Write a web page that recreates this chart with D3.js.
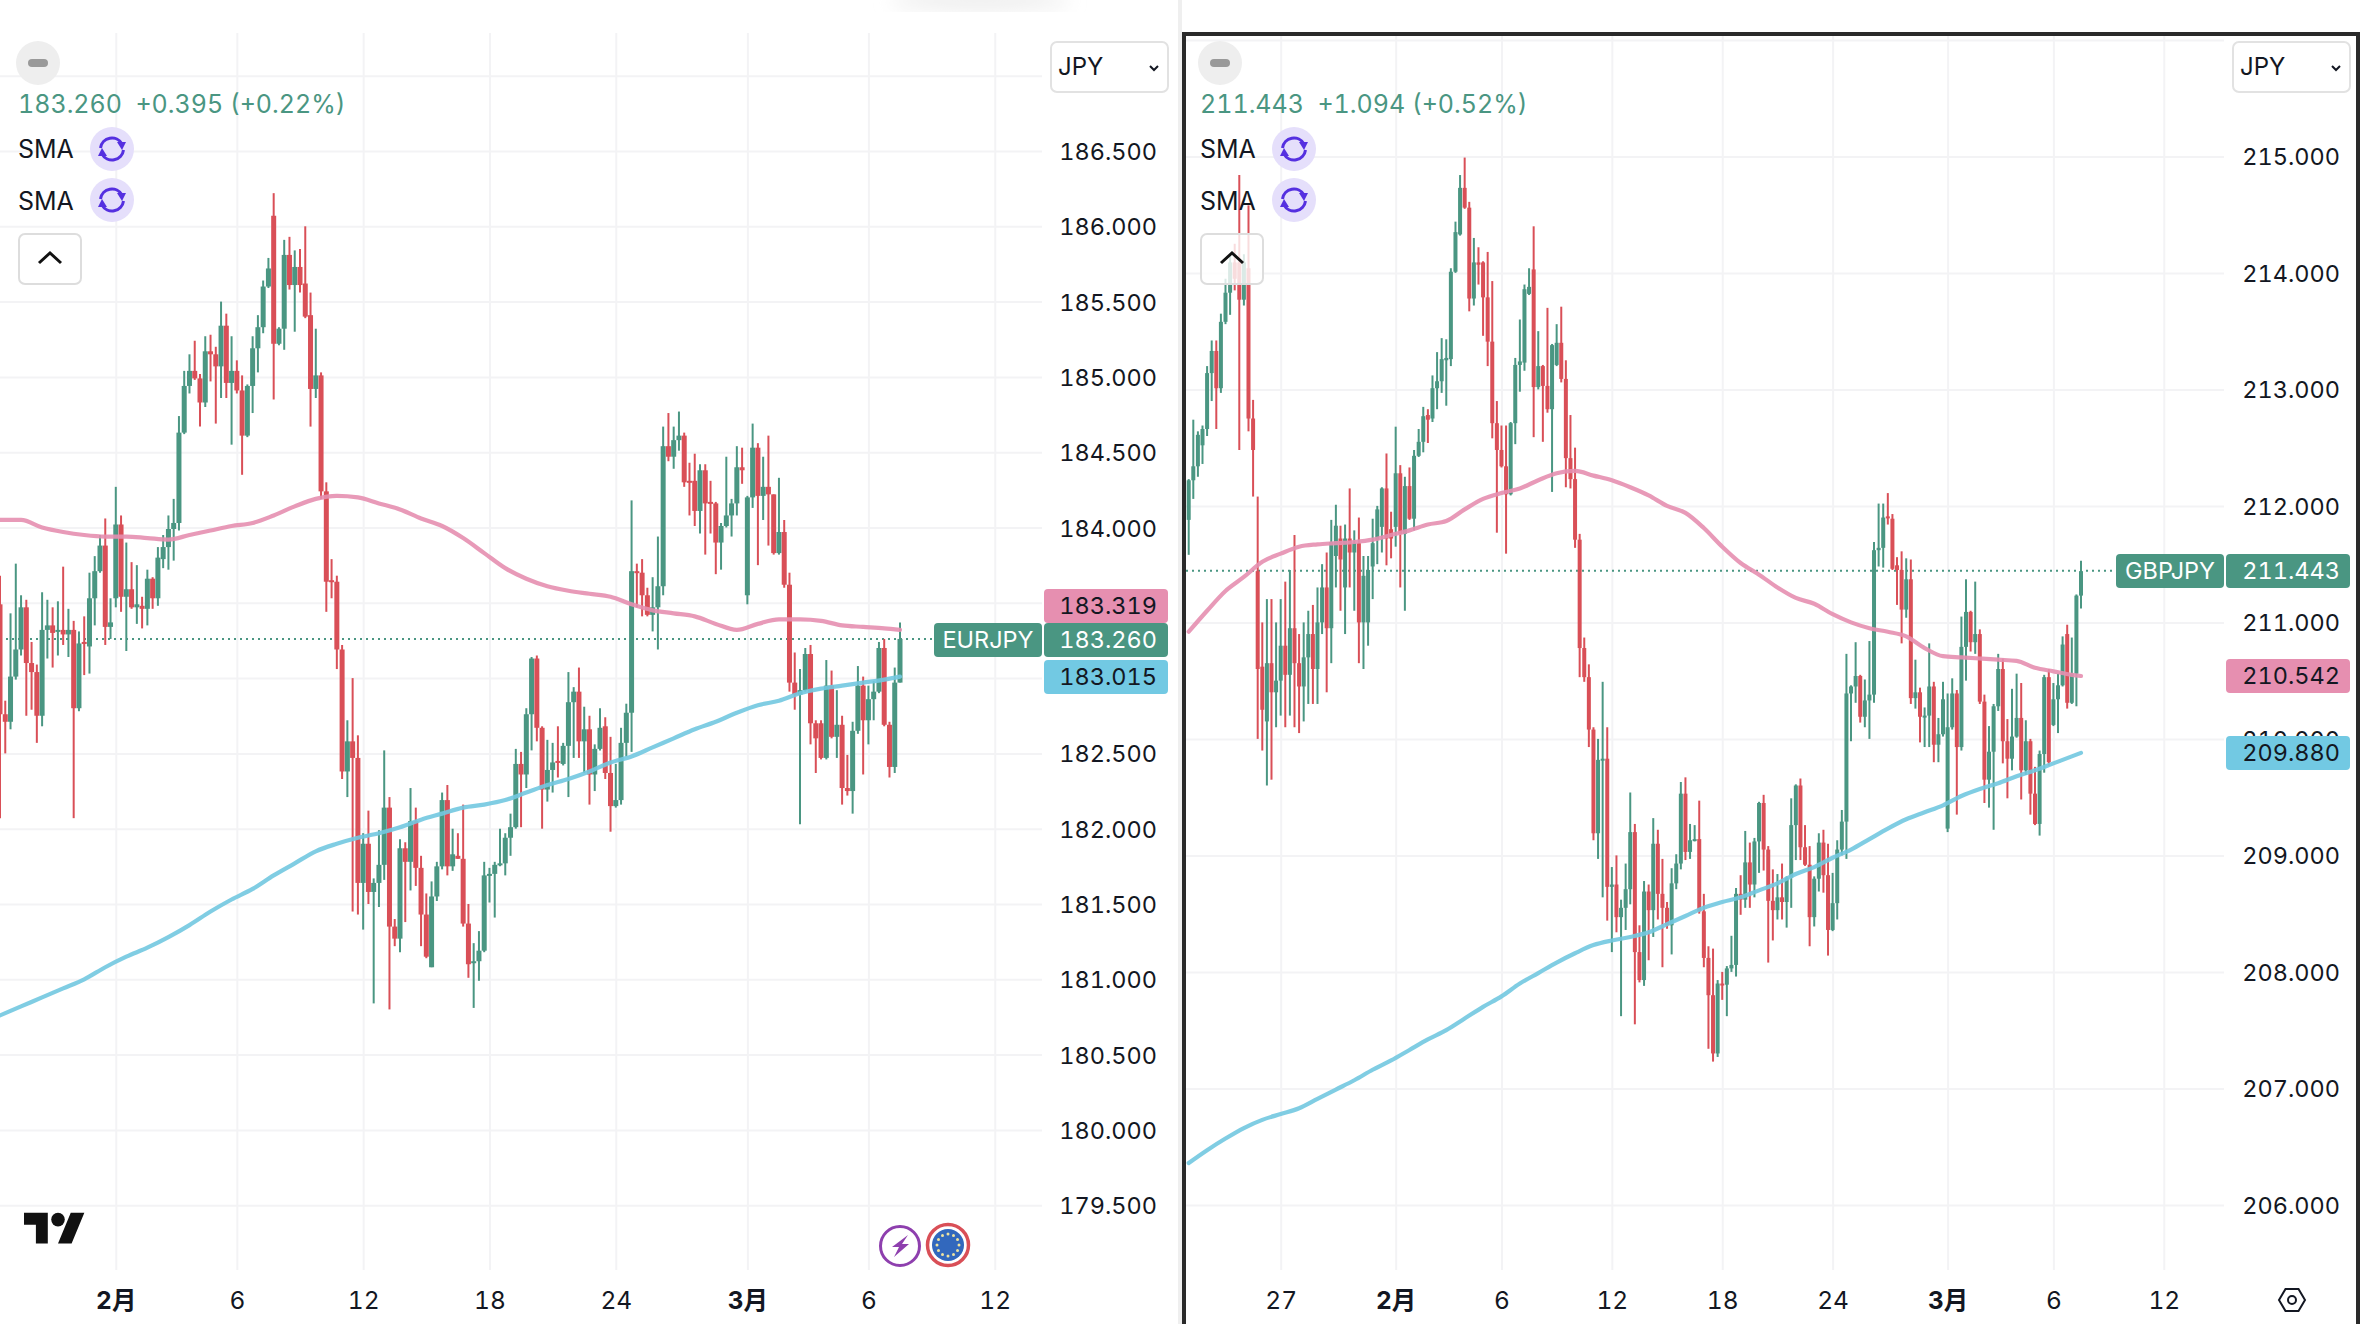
<!DOCTYPE html>
<html>
<head>
<meta charset="utf-8">
<title>EURJPY / GBPJPY</title>
<script src="https://cdn.jsdelivr.net/npm/d3@7"></script>
<style>
  html, body { margin: 0; padding: 0; background: #fff; }
  svg { display: block; font-family: Inter, "Noto Sans CJK JP", sans-serif; }
  svg text { font-variant-numeric: tabular-nums; }
</style>
</head>
<body>
<svg id="chart" width="2360" height="1324"></svg>
<script>
// EURJPY candles
const eurOpen = [
  183.49,182.76,182.71,183.01,183.19,183.47,183.10,183.04,182.75,183.32,
  183.35,183.31,183.32,183.29,183.32,182.80,183.24,183.21,183.53,183.71,
  183.88,183.34,183.53,184.02,183.54,183.59,183.47,183.48,183.46,183.66,
  183.53,183.79,183.87,183.99,184.03,184.63,184.94,185.04,184.99,184.83,
  185.17,185.15,185.07,185.34,184.96,185.04,184.91,184.61,184.94,185.19,
  185.33,185.60,186.07,185.22,185.32,185.81,185.61,185.73,185.62,185.41,
  184.92,185.01,184.24,183.65,183.64,183.19,182.38,182.58,182.47,181.64,
  181.90,181.58,181.64,181.76,182.14,181.35,181.27,181.87,181.78,182.05,
  181.74,181.43,181.08,181.55,181.75,182.19,181.75,181.82,181.80,181.37,
  181.11,181.12,181.19,181.69,181.70,181.76,181.77,181.94,182.01,182.43,
  182.36,182.76,183.13,182.67,182.26,182.39,182.45,182.43,182.55,182.84,
  182.91,182.58,182.66,182.36,182.53,182.68,182.37,182.15,182.19,182.57,
  182.77,183.71,183.70,183.55,183.42,183.47,183.61,184.54,184.47,184.58,
  184.61,184.31,184.31,184.11,184.38,184.17,184.16,183.90,184.01,184.08,
  184.16,184.40,183.55,184.20,184.53,184.21,184.27,184.22,183.83,183.97,
  183.62,182.97,182.89,182.92,183.16,182.70,182.70,182.47,182.95,182.61,
  182.69,182.27,182.25,182.65,182.95,182.72,182.86,182.91,183.20,182.69,
  182.41,182.97];
const eurClose = [
  182.76,182.71,183.01,183.19,183.47,183.10,183.04,182.75,183.32,183.35,
  183.30,183.32,183.29,183.32,182.80,183.23,183.23,183.53,183.71,183.88,
  183.34,183.37,184.02,183.54,183.59,183.47,183.49,183.46,183.66,183.53,
  183.80,183.87,183.99,184.03,184.63,184.94,185.04,184.99,184.83,185.17,
  185.15,185.07,185.34,184.96,185.04,184.91,184.61,184.94,185.19,185.33,
  185.60,185.72,185.22,185.32,185.81,185.61,185.73,185.61,185.40,184.92,
  185.01,184.24,183.64,183.64,183.19,182.38,182.58,182.47,181.64,181.90,
  181.58,181.64,181.76,182.14,181.35,181.27,181.87,181.78,182.05,181.74,
  181.43,181.15,181.55,181.75,182.19,181.75,181.83,181.80,181.37,181.10,
  181.12,181.19,181.69,181.70,181.76,181.77,181.94,182.01,182.43,182.36,
  182.76,183.13,182.67,182.26,182.39,182.44,182.44,182.55,182.84,182.91,
  182.58,182.66,182.36,182.53,182.67,182.37,182.15,182.19,182.57,182.77,
  183.71,183.70,183.55,183.42,183.47,183.61,184.54,184.47,184.58,184.61,
  184.30,184.30,184.11,184.38,184.16,184.16,183.90,184.01,184.08,184.16,
  184.40,184.38,184.20,184.53,184.21,184.27,184.22,183.83,183.97,183.62,
  182.97,182.89,182.92,183.16,182.70,182.60,182.47,182.95,182.61,182.69,
  182.27,182.25,182.65,182.95,182.72,182.86,182.91,183.20,182.69,182.41,
  182.97,183.26];
const eurHigh = [
  183.68,182.85,183.43,183.76,183.55,183.52,183.24,183.09,183.57,183.52,
  183.47,183.51,183.74,183.46,183.38,183.31,183.41,183.70,183.81,183.95,
  184.06,183.53,184.27,184.08,183.90,183.77,183.75,183.54,183.72,183.67,
  183.87,183.95,184.08,184.19,184.74,185.04,185.15,185.24,185.02,185.27,
  185.28,185.20,185.50,185.42,185.27,185.11,185.01,184.95,185.27,185.41,
  185.64,185.79,186.22,185.33,185.91,185.93,185.84,185.85,186.00,185.56,
  185.32,185.03,184.30,183.79,183.68,183.22,182.72,183.00,182.62,181.97,
  182.12,181.67,181.99,182.52,182.21,181.40,181.93,181.91,182.27,182.14,
  181.82,181.57,181.65,181.78,182.24,182.29,182.00,181.97,182.16,181.50,
  181.24,181.32,181.78,181.74,181.78,182.00,181.97,182.10,182.53,182.51,
  182.80,183.14,183.15,182.68,182.59,182.57,182.68,182.57,183.04,182.94,
  183.07,182.81,182.75,182.56,182.80,182.74,182.61,182.43,182.67,182.83,
  184.18,183.76,183.79,183.60,183.67,183.94,184.67,184.76,184.67,184.77,
  184.63,184.43,184.49,184.42,184.42,184.31,184.17,184.03,184.47,184.19,
  184.54,184.53,184.21,184.69,184.56,184.47,184.61,184.22,184.33,184.05,
  183.70,183.17,183.06,183.20,183.22,182.72,182.72,183.12,183.05,182.92,
  182.75,182.49,182.71,183.08,183.01,182.95,182.98,183.24,183.26,182.71,
  183.07,183.37];
const eurLow = [
  182.07,182.50,182.66,182.99,183.15,182.75,182.79,182.57,182.68,183.13,
  183.07,183.15,183.22,183.14,182.07,182.78,183.02,183.03,183.35,183.70,
  183.22,183.26,183.47,183.44,183.18,183.46,183.36,183.33,183.35,183.46,
  183.48,183.73,183.72,183.78,183.98,184.62,184.89,184.98,184.67,184.80,
  184.97,184.69,184.86,184.86,184.55,184.89,184.35,184.60,184.76,185.03,
  185.29,185.59,184.85,185.21,185.18,185.58,185.30,185.56,185.39,184.67,
  184.86,184.19,183.44,183.53,183.06,182.33,182.21,181.45,181.43,181.33,
  181.50,180.84,181.48,181.66,180.80,181.22,181.18,181.38,181.59,181.62,
  181.22,181.14,181.08,181.52,181.73,181.69,181.72,181.80,181.35,181.01,
  180.81,180.99,181.18,181.51,181.41,181.75,181.69,181.82,182.00,182.01,
  182.27,182.52,182.58,182.00,182.18,182.24,182.34,182.42,182.21,182.47,
  182.47,182.37,182.16,182.25,182.52,182.33,181.98,182.14,182.16,182.48,
  182.51,183.47,183.41,183.41,183.31,183.19,183.55,184.44,184.39,184.51,
  184.27,184.08,184.01,183.96,183.82,183.96,183.69,183.72,184.00,183.94,
  184.08,184.29,183.49,184.13,183.75,184.05,183.88,183.82,183.82,183.60,
  182.91,182.79,182.03,182.91,182.56,182.37,182.46,182.46,182.60,182.47,
  182.16,182.22,182.10,182.63,182.36,182.56,182.72,182.90,182.68,182.34,
  182.37,182.97];
// EURJPY moving averages, one reading every 4 bars plus the last bar
const eurPink = [
  184.05,184.05,184.00,183.97,183.95,183.94,183.94,183.93,183.92,183.95,
  183.98,184.01,184.03,184.08,184.14,184.19,184.21,184.20,184.16,184.12,
  184.06,184.01,183.93,183.83,183.73,183.66,183.61,183.58,183.56,183.54,
  183.49,183.45,183.43,183.41,183.36,183.32,183.36,183.39,183.39,183.38,
  183.35,183.34,183.33,183.32];
const eurBlue = [
  180.76,180.82,180.88,180.94,181.00,181.08,181.15,181.21,181.28,181.36,
  181.45,181.53,181.60,181.69,181.77,181.85,181.90,181.94,181.97,182.01,
  182.06,182.10,182.14,182.16,182.19,182.24,182.29,182.33,182.38,182.44,
  182.48,182.54,182.60,182.66,182.71,182.77,182.82,182.85,182.90,182.93,
  182.95,182.97,182.99,183.01];

// GBPJPY candles
const gbpOpen = [
  211.88,212.22,212.34,212.52,212.66,213.14,213.33,213.01,213.58,213.83,
  214.09,214.09,213.77,214.04,212.75,211.44,210.62,210.15,210.65,210.40,
  210.50,210.80,210.55,210.95,210.65,210.45,210.70,210.90,210.60,211.00,
  211.30,210.95,211.57,211.72,211.30,211.72,211.60,211.68,211.00,211.00,
  211.48,211.71,211.82,212.15,211.80,211.82,212.28,211.76,212.17,211.89,
  212.43,212.55,212.78,212.75,213.01,213.07,213.25,213.26,214.01,214.33,
  214.73,214.56,213.78,214.09,214.09,213.79,213.41,212.71,212.48,212.34,
  212.10,212.71,213.21,213.23,213.82,214.03,213.02,213.20,213.03,212.83,
  213.21,213.40,213.09,212.41,212.23,211.71,210.78,210.53,210.08,209.19,
  209.82,209.83,208.73,208.75,208.47,208.55,208.71,209.20,208.17,207.93,
  208.69,208.53,209.10,208.67,208.55,208.40,208.76,208.93,209.53,209.03,
  209.13,209.14,208.52,208.12,207.80,207.30,207.90,207.89,208.03,208.06,
  208.67,208.62,208.94,208.75,209.12,209.45,209.05,208.61,208.53,208.64,
  208.60,208.81,209.26,209.60,209.07,208.92,208.47,208.80,209.11,208.83,
  208.36,208.59,209.05,209.29,210.39,210.45,210.54,210.19,210.33,210.38,
  211.62,211.64,211.91,211.89,211.49,211.45,211.11,211.37,210.35,210.40,
  210.19,210.20,210.45,209.95,210.04,209.23,210.10,210.39,209.93,210.79,
  211.09,210.83,210.90,210.32,209.65,209.89,210.28,210.60,209.98,209.83,
  210.02,210.18,209.73,209.98,209.53,209.27,209.87,210.53,210.12,210.34,
  210.46,210.90,210.31,210.56,211.23];
const gbpClose = [
  212.22,212.34,212.61,212.66,213.14,213.33,213.01,213.58,213.83,214.09,
  213.95,213.77,214.09,212.75,212.48,210.60,210.25,210.65,210.40,210.50,
  210.80,210.55,210.95,210.65,210.45,210.70,210.90,210.60,211.00,211.30,
  210.95,211.69,211.83,211.54,211.72,211.60,211.68,211.00,211.40,211.45,
  211.68,211.97,212.15,211.72,211.72,212.28,211.76,212.17,211.89,212.43,
  212.55,212.77,212.74,213.01,213.07,213.26,213.27,214.01,214.35,214.73,
  214.56,213.78,214.09,214.07,213.79,213.41,212.71,212.48,212.34,212.10,
  212.71,213.21,213.24,213.86,213.88,213.02,213.20,213.03,212.83,213.38,
  213.40,213.09,212.41,212.23,211.71,210.78,210.53,210.08,209.19,209.82,
  209.83,208.73,208.75,208.47,208.55,208.71,209.20,208.17,207.93,208.69,
  208.53,209.10,208.67,208.55,208.40,208.76,208.93,209.53,209.03,209.13,
  209.14,208.52,208.12,207.80,207.30,207.90,207.89,208.03,208.06,208.67,
  208.62,208.94,208.75,209.12,209.45,209.05,208.61,208.53,208.64,208.60,
  208.81,209.26,209.60,209.07,208.92,208.47,208.80,209.11,208.83,208.36,
  208.59,209.05,209.29,210.39,210.45,210.54,210.19,210.33,210.38,211.62,
  211.64,211.90,211.90,211.46,211.45,211.11,211.37,210.35,210.40,210.19,
  210.20,210.45,209.95,210.04,210.34,210.10,210.39,209.93,210.79,211.09,
  210.83,210.90,210.32,209.65,209.89,210.28,210.60,209.98,209.83,210.02,
  210.18,209.73,209.98,209.53,209.27,209.87,210.53,209.80,210.34,210.46,
  210.81,210.31,210.56,211.23,211.44];
const gbpHigh = [
  212.23,212.74,212.64,212.69,213.20,213.42,213.42,213.65,213.95,214.15,
  214.25,214.84,214.16,214.58,212.91,212.08,211.00,211.20,211.20,211.00,
  211.20,211.35,211.45,211.75,210.90,211.00,211.10,211.15,211.30,211.50,
  211.60,211.88,212.01,211.83,211.84,212.15,211.79,211.90,211.57,211.57,
  211.89,212.00,212.16,212.45,211.95,212.68,212.35,212.25,212.33,212.48,
  212.66,212.85,212.83,213.12,213.32,213.44,213.43,214.04,214.44,214.84,
  214.99,214.61,214.30,214.22,214.10,214.18,213.93,212.90,212.69,212.69,
  212.72,213.27,213.60,213.90,214.04,214.40,213.50,213.21,213.70,213.39,
  213.56,213.71,213.25,212.78,212.50,211.76,210.87,210.64,210.10,210.00,
  210.49,210.10,208.90,209.00,208.62,208.93,209.54,209.27,208.40,208.78,
  208.75,209.32,209.22,208.97,208.60,208.89,209.01,209.63,209.67,209.27,
  209.26,209.47,208.67,208.22,208.20,207.93,208.00,208.05,208.31,208.72,
  208.83,209.21,209.11,209.15,209.46,209.52,209.08,208.88,208.84,208.93,
  208.82,209.49,209.61,209.66,209.26,209.08,208.82,209.19,209.22,209.10,
  208.85,209.13,209.39,210.73,210.46,210.83,210.55,210.51,210.84,211.69,
  212.02,212.02,212.11,211.93,211.56,211.61,211.55,211.54,210.68,210.44,
  210.27,210.82,210.49,210.18,210.49,210.39,210.52,210.42,211.05,211.37,
  211.10,211.35,210.94,210.38,210.11,210.30,210.73,210.69,210.17,210.43,
  210.56,210.48,210.16,210.00,209.76,209.90,210.55,210.60,210.48,210.56,
  210.88,210.98,210.87,211.24,211.53];
const gbpLow = [
  211.58,212.06,212.25,212.36,212.60,212.90,212.66,212.97,213.56,213.64,
  213.85,212.48,213.72,212.64,212.08,210.00,209.90,209.60,209.65,210.10,
  210.20,210.10,210.20,210.10,210.05,210.15,210.30,210.30,210.30,210.90,
  210.40,210.65,211.30,211.10,210.90,211.30,211.10,210.65,210.60,210.80,
  211.20,211.50,211.60,211.49,211.55,211.65,211.30,211.10,211.88,211.79,
  212.42,212.46,212.54,212.72,212.83,212.97,212.86,213.20,214.00,214.32,
  214.55,213.67,213.72,213.90,213.46,213.20,212.58,211.77,212.33,211.59,
  212.09,212.53,212.98,213.16,213.81,212.59,213.00,212.55,212.80,212.12,
  213.20,213.06,212.16,212.15,211.64,210.53,210.49,209.93,209.13,208.97,
  208.64,208.44,208.17,208.34,207.62,208.36,208.58,207.55,207.91,207.88,
  208.10,208.30,208.45,208.04,208.37,208.15,208.71,208.88,208.96,208.97,
  209.12,208.50,208.04,207.34,207.23,207.27,207.76,207.62,208.00,207.96,
  208.49,208.55,208.55,208.64,208.85,208.87,208.08,208.27,208.45,208.45,
  208.38,208.55,208.96,208.96,208.91,208.22,208.39,208.69,208.68,208.14,
  208.35,208.45,209.00,208.97,209.98,210.31,210.14,210.10,210.00,210.31,
  211.48,211.47,211.84,211.45,211.15,210.82,211.04,210.30,210.26,209.97,
  209.93,209.93,209.80,209.80,210.02,209.20,210.08,209.35,209.90,210.50,
  210.75,210.73,210.30,209.45,209.41,209.22,210.24,209.79,209.49,209.73,
  210.01,209.48,209.69,209.35,209.26,209.17,209.71,209.77,210.11,210.05,
  210.45,210.26,210.30,210.28,211.12];
const gbpPink = [
  210.92,211.10,211.27,211.39,211.52,211.59,211.65,211.67,211.68,211.69,
  211.71,211.75,211.79,211.84,211.87,211.97,212.06,212.11,212.15,212.22,
  212.28,212.30,212.26,212.22,212.16,212.09,212.00,211.94,211.81,211.65,
  211.51,211.41,211.30,211.21,211.16,211.07,211.00,210.95,210.92,210.88,
  210.78,210.71,210.70,210.69,210.68,210.67,210.61,210.58,210.55,210.54];
const gbpBlue = [
  206.36,206.47,206.57,206.66,206.73,206.78,206.83,206.91,206.99,207.07,
  207.16,207.24,207.33,207.42,207.50,207.60,207.70,207.79,207.90,207.99,
  208.08,208.16,208.23,208.27,208.30,208.34,208.41,208.48,208.55,208.60,
  208.64,208.70,208.76,208.84,208.90,208.98,209.05,209.14,209.23,209.31,
  209.37,209.43,209.51,209.57,209.62,209.68,209.73,209.79,209.85,209.88];

// axis ticks; 183.500 and 183.000 sit fully behind the tags on the left pane
const eurPriceTicks = [186.5,186,185.5,185,184.5,184,182.5,182,181.5,181,180.5,180,179.5];
const eurGridTicks = [187,186.5,186,185.5,185,184.5,184,183.5,183,182.5,182,181.5,181,180.5,180,179.5];
const gbpPriceTicks = [215,214,213,212,211,210,209,208,207,206];
const gbpGridTicks = [216].concat(gbpPriceTicks);
const eurTimeBars = [22,45,69,93,117,142,165,189];
const eurTimeLabels = ["2月","6","12","18","24","3月","6","12"];
const gbpTimeBars = [20,45,68,92,116,140,165,188,212];
const gbpTimeLabels = ["27","2月","6","12","18","24","3月","6","12"];

const UP = "#4a9682", DOWN = "#d94f57";
const PINK = "#e68fb0", BLUE = "#72c8e0";
const INK = "#131722", GRID = "#f3f3f5";

const svg = d3.select("#chart");

function drawPane(p) {
  const n = p.open.length;
  const x = d3.scaleLinear().domain([0, n - 1]).range(p.xRange);
  const y = d3.scaleLinear().domain(p.yDomain).range(p.yRange);
  const pane = svg.append("g").attr("class", p.name);

  // grid
  const hGrid = pane.append("g").attr("transform", `translate(${p.gridRight},0)`)
    .call(d3.axisLeft(y).tickValues(p.gridTicks).tickSize(p.gridRight - p.paneLeft).tickFormat(""));
  const vGrid = pane.append("g").attr("transform", `translate(0,${p.gridBottom})`)
    .call(d3.axisBottom(x).tickValues(p.timeBars).tickSizeInner(p.gridTop - p.gridBottom).tickSizeOuter(0).tickFormat(""));
  [hGrid, vGrid].forEach(g => {
    g.select(".domain").remove();
    g.selectAll("line").attr("stroke", GRID).attr("stroke-width", 2);
  });

  // last price line
  pane.append("line").attr("x1", p.paneLeft).attr("x2", p.tagLeft)
    .attr("y1", y(p.last)).attr("y2", y(p.last))
    .attr("stroke", UP).attr("stroke-width", 2).attr("stroke-dasharray", "2 4");

  const clipId = "clip-" + p.name;
  svg.append("clipPath").attr("id", clipId).append("rect")
    .attr("x", p.paneLeft).attr("y", 0).attr("width", p.gridRight - p.paneLeft).attr("height", 1324);
  const plot = pane.append("g").attr("clip-path", `url(#${clipId})`);

  const bars = d3.range(n);
  const color = i => p.close[i] >= p.open[i] ? UP : DOWN;
  plot.append("g").selectAll("line").data(bars).join("line")
    .attr("x1", i => x(i)).attr("x2", i => x(i))
    .attr("y1", i => y(p.high[i])).attr("y2", i => y(p.low[i]))
    .attr("stroke", color).attr("stroke-width", 2);
  plot.append("g").selectAll("rect").data(bars).join("rect")
    .attr("x", i => x(i) - p.bodyWidth / 2)
    .attr("width", p.bodyWidth)
    .attr("y", i => Math.min(y(p.open[i]), y(p.close[i])))
    .attr("height", i => Math.max(2, Math.abs(y(p.open[i]) - y(p.close[i]))))
    .attr("fill", color);

  // moving averages
  const smaBars = d3.range(0, n - 1, 4).concat(n - 1);
  const line = vals => d3.line().x((d, i) => x(smaBars[i])).y(d => y(d)).curve(d3.curveMonotoneX)(vals);
  [[p.pink, PINK], [p.blue, BLUE]].forEach(([vals, col]) => {
    plot.append("path").attr("d", line(vals)).attr("fill", "none")
      .attr("stroke", col).attr("stroke-width", 4.2).attr("stroke-opacity", 0.9).attr("stroke-linecap", "round");
  });

  // price axis labels
  const priceAxis = pane.append("g").attr("transform", `translate(${p.labelRight},1)`)
    .call(d3.axisLeft(y).tickValues(p.priceTicks).tickSize(0).tickPadding(0).tickFormat(d3.format(".3f")));
  priceAxis.select(".domain").remove();
  priceAxis.selectAll("text").attr("font-size", 23.5).attr("font-family", "Inter").attr("fill", INK);

  // time axis labels
  const timeAxis = pane.append("g").attr("transform", `translate(0,${p.timeY})`)
    .call(d3.axisBottom(x).tickValues(p.timeBars).tickSize(0).tickPadding(0).tickFormat((d, i) => p.timeLabels[i]));
  timeAxis.select(".domain").remove();
  timeAxis.selectAll("text").attr("font-size", 24.5).attr("font-family", "Inter, 'Noto Sans CJK JP'").attr("fill", INK)
    .attr("font-weight", (d, i) => p.timeLabels[i].includes("月") ? 700 : 400);

  // price tags
  const tags = [
    { txt: p.tagPink.toFixed(3), fill: PINK, ink: INK, y: p.pinkTagY },
    { txt: p.lastText, fill: UP, ink: "#fff", y: p.lastTagY },
    { txt: p.tagBlue.toFixed(3), fill: "#72c9e3", ink: INK, y: p.blueTagY }
  ];
  tags.forEach(t => {
    pane.append("rect").attr("x", p.tagRight - 124).attr("y", t.y).attr("width", 124).attr("height", 34)
      .attr("rx", 4).attr("fill", t.fill);
    pane.append("text").attr("x", p.labelRight).attr("y", t.y + 17).attr("dy", "0.35em")
      .attr("text-anchor", "end").attr("font-size", 23.5).attr("fill", t.ink).text(t.txt);
  });
  pane.append("rect").attr("x", p.tagRight - 126 - 108).attr("y", p.lastTagY).attr("width", 108).attr("height", 34)
    .attr("rx", 4).attr("fill", UP);
  pane.append("text").attr("x", p.tagRight - 126 - 54).attr("y", p.lastTagY + 17).attr("dy", "0.35em")
    .attr("text-anchor", "middle").attr("font-size", 23.5).attr("fill", "#fff").text(p.name);

  // legend block
  const lx = p.legendX;
  pane.append("circle").attr("cx", lx + 20).attr("cy", 63).attr("r", 22).attr("fill", "#eeeeee");
  pane.append("rect").attr("x", lx + 10).attr("y", 59).attr("width", 20).attr("height", 8).attr("rx", 4).attr("fill", "#999");
  pane.append("text").attr("x", lx).attr("y", 113).attr("font-size", 25).attr("fill", UP)
    .attr("xml:space", "preserve").text(p.header);
  [157, 209].forEach((base, k) => {
    pane.append("text").attr("x", lx).attr("y", base + 1).attr("font-size", 25).attr("fill", INK).text("SMA");
    const g = pane.append("g").attr("transform", `translate(${lx + 94},${base - 8 - (k ? 1 : 0)})`);
    g.append("circle").attr("r", 22).attr("fill", "#e5dffb");
    g.append("path").attr("fill", "none").attr("stroke", "#5530e0").attr("stroke-width", 3)
      .attr("d", "M-11.5,-1 A11.5,11.5 0 0 1 10,-5 M11.5,1 A11.5,11.5 0 0 1 -10,5");
    g.append("path").attr("fill", "#5530e0").attr("d", "M14,-7 L5,-7 L10,1 Z M-14,7 L-5,7 L-10,-1 Z");
  });
  pane.append("rect").attr("x", lx + 1).attr("y", 234).attr("width", 62).attr("height", 50).attr("rx", 6)
    .attr("fill", "#fff").attr("fill-opacity", 0.8).attr("stroke", "#dddddd").attr("stroke-width", 2);
  pane.append("path").attr("fill", "none").attr("stroke", "#111").attr("stroke-width", 3)
    .attr("d", `M${lx + 21},263 L${lx + 32},253 L${lx + 43},263`);

  // currency selector
  pane.append("rect").attr("x", p.tagRight - 117).attr("y", 42).attr("width", 117).attr("height", 50).attr("rx", 6)
    .attr("fill", "#fff").attr("stroke", "#e2e2e2").attr("stroke-width", 2);
  pane.append("text").attr("x", p.tagRight - 110).attr("y", 75).attr("font-size", 24).attr("fill", INK).text("JPY");
  pane.append("path").attr("fill", "none").attr("stroke", INK).attr("stroke-width", 2)
    .attr("d", `M${p.tagRight - 18},66 L${p.tagRight - 14},70 L${p.tagRight - 10},66`);
}

// soft smudge at the top edge
const defs = svg.append("defs");
defs.append("filter").attr("id", "smudge").append("feGaussianBlur").attr("stdDeviation", 10);
svg.append("ellipse").attr("cx", 980).attr("cy", 0).attr("rx", 90).attr("ry", 10)
  .attr("fill", "#ececec").attr("filter", "url(#smudge)");

drawPane({
  name: "EURJPY", open: eurOpen, close: eurClose, high: eurHigh, low: eurLow, pink: eurPink, blue: eurBlue,
  xRange: [0, 900], yDomain: [186.5, 179.5], yRange: [151, 1205.2],
  gridTicks: eurGridTicks, priceTicks: eurPriceTicks, timeBars: eurTimeBars, timeLabels: eurTimeLabels,
  paneLeft: 0, gridRight: 1042, gridTop: 33, gridBottom: 1270, timeY: 1292, labelRight: 1157,
  tagLeft: 934, tagRight: 1168, bodyWidth: 5,
  last: 183.26, lastText: "183.260", tagPink: 183.319, tagBlue: 183.015,
  pinkTagY: 589, lastTagY: 623, blueTagY: 660,
  legendX: 18, header: "183.260  +0.395 (+0.22%)"
});

drawPane({
  name: "GBPJPY", open: gbpOpen, close: gbpClose, high: gbpHigh, low: gbpLow, pink: gbpPink, blue: gbpBlue,
  xRange: [1188.7, 2081], yDomain: [215, 206], yRange: [156.4, 1204.9],
  gridTicks: gbpGridTicks, priceTicks: gbpPriceTicks, timeBars: gbpTimeBars, timeLabels: gbpTimeLabels,
  paneLeft: 1186, gridRight: 2224, gridTop: 36, gridBottom: 1270, timeY: 1292, labelRight: 2340,
  tagLeft: 2116, tagRight: 2350, bodyWidth: 4,
  last: 211.443, lastText: "211.443", tagPink: 210.542, tagBlue: 209.880,
  pinkTagY: 659, lastTagY: 554, blueTagY: 736,
  legendX: 1200, header: "211.443  +1.094 (+0.52%)"
});

// TradingView mark and the two event badges in the left pane
const logo = svg.append("g").attr("transform", "translate(24,1206) scale(1.7)").attr("fill", "#111");
logo.append("path").attr("d", "M14 22H7V11H0V4h14v18zM28 22h-8l7.5-18h8L28 22z");
logo.append("circle").attr("cx", 20).attr("cy", 8).attr("r", 4);

const bolt = svg.append("g").attr("transform", "translate(900,1246)");
bolt.append("circle").attr("r", 19.5).attr("fill", "#fff").attr("stroke", "#8e3fae").attr("stroke-width", 3);
bolt.append("path").attr("fill", "#8e3fae").attr("d", "M8,-11 L-8,1 L-1,1 L-6,11 L9,-2 L2,-2 Z");

const flag = svg.append("g").attr("transform", "translate(948,1245)");
flag.append("circle").attr("r", 20.5).attr("fill", "#fff").attr("stroke", "#d94f57").attr("stroke-width", 3.5);
flag.append("circle").attr("r", 16).attr("fill", "#3268bd");
d3.range(12).forEach(k => {
  const a = k / 12 * 2 * Math.PI;
  flag.append("circle").attr("cx", 11 * Math.cos(a)).attr("cy", 11 * Math.sin(a)).attr("r", 1.5).attr("fill", "#eee3a0");
});

// frame around the active pane
svg.append("rect").attr("x", 1178).attr("y", 0).attr("width", 4).attr("height", 1324).attr("fill", "#efefef");
svg.append("path").attr("fill", "none").attr("stroke", "#2a2a2a").attr("stroke-width", 4)
  .attr("d", "M1184,1324 L1184,34 L2358,34 L2358,1324");

// chart settings glyph, bottom right
const gear = svg.append("g").attr("transform", "translate(2292,1300)").attr("fill", "none").attr("stroke", INK).attr("stroke-width", 2);
gear.append("path").attr("d", "M-13,0 L-6.5,-11 L6.5,-11 L13,0 L6.5,11 L-6.5,11 Z");
gear.append("circle").attr("r", 4);
</script>
</body>
</html>
